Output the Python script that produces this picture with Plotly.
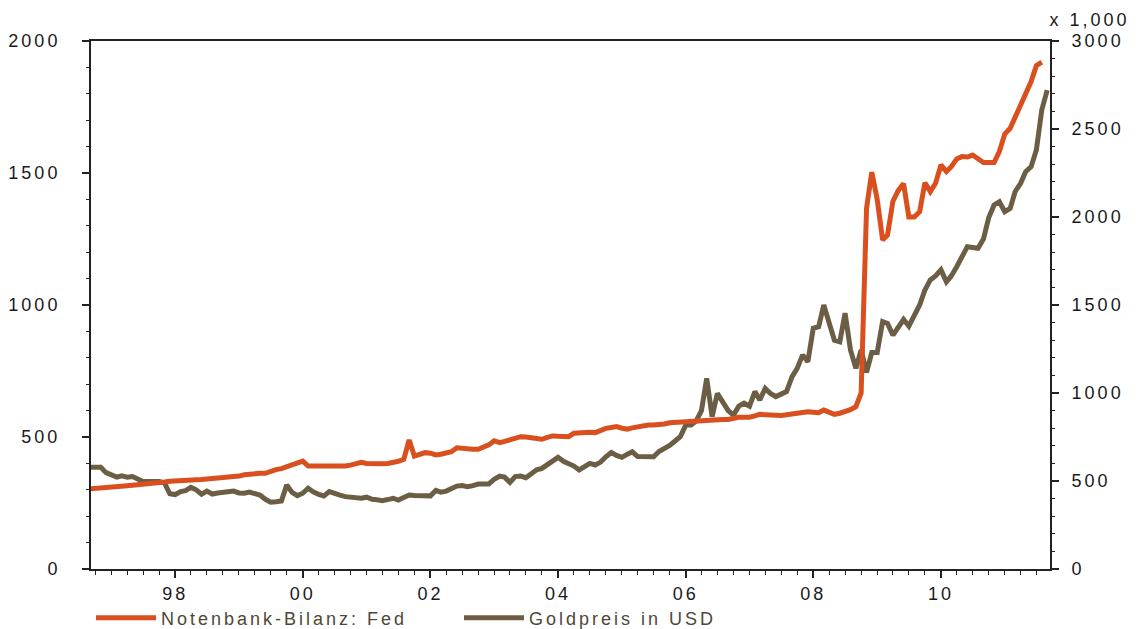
import pandas as pd
import plotly.graph_objects as go

# Monthly observations starting Sep 1996
start_month = "1996-09-01"

gold_usd = [
    385, 385, 385, 365, 355, 348, 353, 348, 350, 340,
    331, 331, 331, 331, 325, 285, 282, 293, 297, 309,
    300, 283, 295, 284, 288, 291, 293, 295, 288, 287,
    291, 286, 280, 264, 253, 255, 258, 318, 290, 278,
    287, 306, 292, 283, 277, 293, 285, 280, 274, 273,
    272, 268, 272, 264, 262, 259, 263, 268, 261, 270,
    280, 278, 277, 274, 277, 298, 291, 295, 304, 314,
    316, 312, 316, 322, 322, 322, 340, 352, 348, 328,
    350, 352, 346, 360, 376, 381, 395, 410, 423, 408,
    400, 390, 375, 390, 400, 394, 405, 425, 441, 430,
    423, 435, 444, 426, 425, 425, 425, 445, 455, 468,
    485, 501, 545, 545, 560, 600, 722, 577, 665, 634,
    600, 583, 617, 628, 617, 672, 640, 684, 665, 653,
    665, 672, 728, 760, 811, 785, 912, 918, 1000, 937,
    867, 861, 969, 830, 760, 830, 745, 820, 820, 937,
    930, 886, 912, 945, 920, 956, 1000, 1057, 1095, 1110,
    1133, 1088, 1110, 1145, 1185, 1221, 1218, 1215, 1250, 1330,
    1379, 1391, 1353, 1366, 1429, 1460, 1505, 1524, 1587, 1739,
    1814,
]

fed_balance = [
    455, 457, 459, 460, 461, 462, 466, 473, 476, 478,
    482, 486, 489, 491, 494, 498, 501, 502, 504, 506,
    507, 508, 510, 518, 520, 522, 524, 526, 528, 535,
    540, 542, 544, 544, 558, 565, 570, 580, 587, 600,
    613, 585, 585, 583, 581, 582, 583, 585, 585, 590,
    600, 606, 600, 597, 597, 598, 600, 605, 612, 623,
    733, 642, 650, 661, 658, 648, 652, 660, 666, 689,
    684, 680, 680, 680, 695, 705, 729, 718, 725, 735,
    742, 752, 750, 745, 742, 737, 748, 756, 754, 752,
    752, 771, 774, 777, 777, 775, 788, 799, 804, 809,
    800, 795, 802, 809, 814, 818, 818, 818, 824, 831,
    833, 835, 837, 840, 847, 848, 848, 849, 850, 850,
    850, 858, 862, 862, 862, 870, 879, 877, 876, 870,
    872, 876, 880, 888, 891, 894, 891, 888, 903, 892,
    879, 885, 894, 905, 922, 1000, 2050, 2255, 2100, 1870,
    1898, 2090, 2150, 2190, 2000, 2000, 2030, 2195, 2144, 2192,
    2296, 2258, 2286, 2330, 2343, 2341, 2352, 2334, 2309, 2309,
    2309, 2371, 2472, 2504, 2570, 2637, 2700, 2770, 2860, 2880,
]

left_ticks = [0, 500, 1000, 1500, 2000]
right_ticks = [0, 500, 1000, 1500, 2000, 2500, 3000]

series_names = ["Notenbank-Bilanz: Fed", "Goldpreis in USD"]
series_colors = ["#D9501E", "#6B5E45"]

dates = pd.date_range(start_month, periods=len(gold_usd), freq="MS")

fig = go.Figure()
fig.add_trace(go.Scatter(
    x=dates[:len(fed_balance)], y=fed_balance, name=series_names[0],
    mode="lines", line=dict(color=series_colors[0], width=5), yaxis="y2",
))
fig.add_trace(go.Scatter(
    x=dates, y=gold_usd, name=series_names[1],
    mode="lines", line=dict(color=series_colors[1], width=5), yaxis="y",
))

tick_font = dict(family="Liberation Sans, Arial, sans-serif", size=18, color="#1a1a1a")

fig.update_layout(
    width=1139, height=629,
    margin=dict(l=91, r=89, t=41, b=60, autoexpand=False),
    paper_bgcolor="white", plot_bgcolor="white",
    showlegend=True,
    legend=dict(
        orientation="h", x=0.0, xanchor="left", y=-0.058, yanchor="top",
        font=dict(family="Liberation Sans, Arial, sans-serif", size=18, color="#4f4737"),
        entrywidth=293, entrywidthmode="pixels", itemwidth=60,
        bgcolor="rgba(0,0,0,0)",
    ),
    xaxis=dict(
        type="date",
        range=["1996-09-06", "2011-09-17"],
        showgrid=False, zeroline=False,
        showline=True, linecolor="#222", linewidth=2, mirror=True,
        ticks="outside", ticklen=7, tickwidth=1.5, tickcolor="#222",
        dtick="M24", tick0="1998-01-01", tickformat="%y",
        tickfont=tick_font,
        minor=dict(dtick="M3", tick0="1998-01-01", ticks="outside", ticklen=4,
                   tickwidth=1, tickcolor="#222"),
    ),
    yaxis=dict(
        range=[0, 2000], tickvals=left_ticks,
        showgrid=False, zeroline=False,
        showline=True, linecolor="#222", linewidth=2,
        ticks="outside", ticklen=7, tickwidth=1.5, tickcolor="#222",
        tickfont=tick_font, ticklabelstandoff=18,
        minor=dict(dtick=100, ticks="outside", ticklen=3, tickwidth=1, tickcolor="#222"),
    ),
    yaxis2=dict(
        range=[0, 3000], tickvals=right_ticks,
        overlaying="y", side="right",
        showgrid=False, zeroline=False,
        showline=True, linecolor="#222", linewidth=2,
        ticks="outside", ticklen=7, tickwidth=1.5, tickcolor="#222",
        tickfont=tick_font, ticklabelstandoff=9,
        minor=dict(dtick=100, ticks="outside", ticklen=3, tickwidth=1, tickcolor="#222"),
    ),
    annotations=[dict(
        text="x 1,000", xref="paper", yref="paper", x=1.008, y=1.0,
        xanchor="left", yanchor="bottom", yshift=9, showarrow=False,
        font=tick_font,
    )],
)

post = """
document.body.style.margin='0';
document.querySelectorAll('.xtick text, .ytick text, .y2tick text, .legendtext, .annotation-text').forEach(function(e){e.style.letterSpacing='3px';});
"""
fig.write_html("out.html", post_script=post, config={"displayModeBar": False})
